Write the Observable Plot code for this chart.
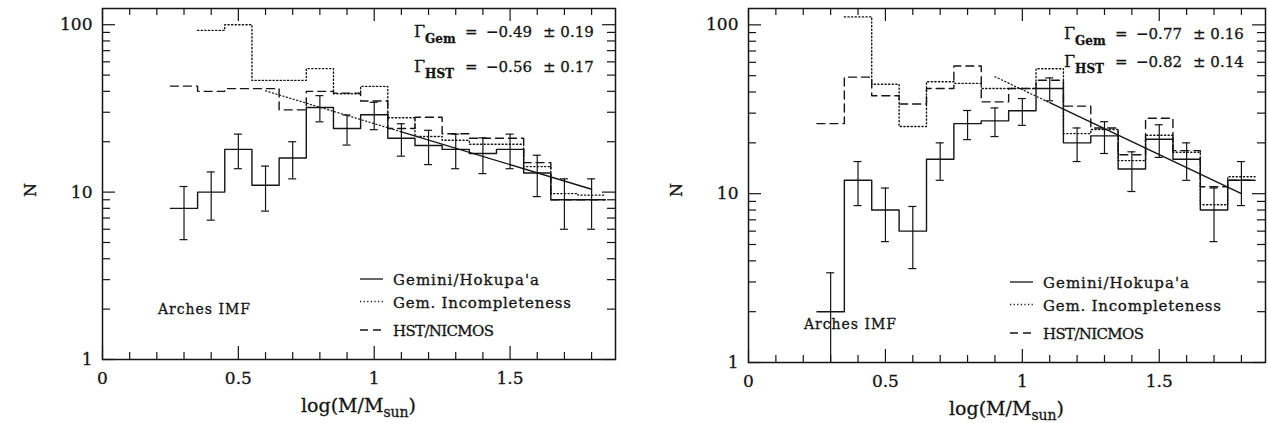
<!DOCTYPE html>
<html>
<head>
<meta charset="utf-8">
<script src="https://cdn.jsdelivr.net/npm/d3@7"></script>
<script src="https://cdn.jsdelivr.net/npm/@observablehq/plot@0.6"></script>
<style>
  body { margin: 0; background: #fff; }
  #charts { display: flex; width: 1268px; height: 423px; }
  #charts svg text { stroke: #151515; stroke-width: 0.3px; }
</style>
</head>
<body>
<div id="charts"></div>
<script>
// Mass bins: centres in log(M/Msun), 0.1 dex wide
const binCenters = [0.3, 0.4, 0.5, 0.6, 0.7, 0.8, 0.9, 1.0, 1.1, 1.2, 1.3, 1.4, 1.5, 1.6, 1.7, 1.8];
const binWidth = 0.1;

// Left panel
const leftGemini      = [8, 10, 18, 11, 16, 32, 24, 29, 21, 19, 18, 17, 18, 13, 9, 9];
const leftGeminiErr   = [2.8, 3.2, 4.2, 3.3, 4.0, 5.7, 4.9, 5.4, 4.6, 4.4, 4.2, 4.1, 4.2, 3.6, 3.0, 3.0];
const leftIncomplete  = [null, 92.5, 100, 46.5, 46.5, 54.7, 38.7, 42.8, 27.8, 21.5, 20.4, 19.3, 19.3, 14.2, 9.8, 9.6];
const leftHST         = [43, 40, 41.5, 41.5, 31, 40, 39, 35, 24, 28, 22.3, 21, 21, 15, 9, 9];
const leftSlopes      = [
  {sub: "Gem", gamma: -0.49, err: 0.19},
  {sub: "HST", gamma: -0.56, err: 0.17}
];
const leftFit = {pivotM: 1.8, pivotN: 10.4, dottedFrom: 0.6, solidFrom: 1.1, to: 1.8};

// Right panel
const rightGemini     = [2, 12, 8, 6, 16, 26, 27, 31, 42, 20, 22, 14, 21, 16, 8, 12];
const rightGeminiErr  = [1.4, 3.5, 2.8, 2.4, 4.0, 5.1, 5.2, 5.6, 6.5, 4.5, 4.7, 3.7, 4.6, 4.0, 2.8, 3.5];
const rightIncomplete = [null, 111.5, 44.5, 25, 46, 45, 42, 42, 55, 22.7, 24, 15.7, 22.2, 17.6, 8.6, 12.6];
const rightHST        = [26, 49, 38, 34, 42, 57, 35, 42, 47, 33, 24.5, 17, 28, 18, 11, 12];
const rightSlopes     = [
  {sub: "Gem", gamma: -0.77, err: 0.16},
  {sub: "HST", gamma: -0.82, err: 0.14}
];
const rightFit = {pivotM: 1.8, pivotN: 10.0, dottedFrom: 0.9, solidFrom: 1.1, to: 1.8};

// Axis ticks
const xMajor = [0, 0.5, 1, 1.5];
const xMinor = [0.1, 0.2, 0.3, 0.4, 0.6, 0.7, 0.8, 0.9, 1.1, 1.2, 1.3, 1.4, 1.6, 1.7, 1.8];
const yMajor = [1, 10, 100];
const yMinor = [2, 3, 4, 5, 6, 7, 8, 9, 20, 30, 40, 50, 60, 70, 80, 90];

const legendLabels = ["Gemini/Hokupa'a", "Gem. Incompleteness", "HST/NICMOS"];
const panelTag = "Arches IMF";
const xTitle = ["log(M/M", "sun", ")"];
const yTitle = "N";

const ink = "#151515";
const serif = "'DejaVu Serif', 'Liberation Serif', serif";
const dotted = "1.2,2.4";
const dashed = "8,5";
const legendDashes = [null, dotted, dashed];
// Even, typewriter-like spacing of the legend and tag lettering
const legendLengths = [146, 178, 101];
const tagLength = 92;

// Histogram outline: one point per bin left edge plus the last right edge
function stepPoints(values) {
  const pts = [];
  let last = null;
  binCenters.forEach((c, i) => {
    const v = values[i];
    if (v == null) return;
    pts.push({m: c - binWidth / 2, n: v});
    last = {m: c + binWidth / 2, n: v};
  });
  if (last) pts.push(last);
  return pts;
}

function errorRows(values, errs) {
  return binCenters.map((c, i) => ({m: c, lo: values[i] - errs[i], hi: values[i] + errs[i]}));
}

// Power-law fit, slope taken from the Gemini Γ
function fitPoints(fit, gamma, from, to) {
  return [from, to].map(m => ({m, n: fit.pivotN * Math.pow(10, gamma * (m - fit.pivotM))}));
}

function annotations(cfg) {
  return (index, scales, values, dim) => {
    const L = dim.marginLeft, R = dim.width - dim.marginRight;
    const T = dim.marginTop, B = dim.height - dim.marginBottom;
    const g = d3.create("svg:g").attr("fill", ink).attr("font-family", serif)
      .attr("text-anchor", "start");

    // Slope labels
    cfg.slopes.forEach((s, i) => {
      const y = T + cfg.slopeBaselines[i];
      const t = g.append("text").attr("x", R - 201).attr("y", y).attr("font-size", 16);
      t.append("tspan").text("Γ");
      t.append("tspan").attr("font-size", 12).attr("dy", 6).attr("font-weight", "bold").text(s.sub);
      g.append("text").attr("x", R - 150).attr("y", y).attr("font-size", 15).text("=");
      g.append("text").attr("x", R - 129).attr("y", y).attr("font-size", 15).text("−" + Math.abs(s.gamma).toFixed(2));
      g.append("text").attr("x", R - 72).attr("y", y).attr("font-size", 15).text("± " + s.err.toFixed(2));
    });

    // Tag
    g.append("text").attr("x", L + 56).attr("y", B - cfg.tagLift)
      .attr("font-size", 14).attr("textLength", tagLength).attr("lengthAdjust", "spacing")
      .text(panelTag);

    // Legend
    const rows = [[80, 74], [57.5, 51.5], [29, 23.5]];
    legendLabels.forEach((label, i) => {
      g.append("line").attr("x1", R - 255).attr("x2", R - 232)
        .attr("y1", B - rows[i][0]).attr("y2", B - rows[i][0])
        .attr("stroke", ink).attr("stroke-width", 1.3)
        .attr("stroke-dasharray", legendDashes[i]);
      g.append("text").attr("x", R - 222).attr("y", B - rows[i][1])
        .attr("font-size", 15).attr("textLength", legendLengths[i]).attr("lengthAdjust", "spacing")
        .text(label);
    });

    // Axis titles
    const xt = g.append("text").attr("x", (L + R) / 2).attr("y", B + 53)
      .attr("text-anchor", "middle").attr("font-size", 19);
    xt.append("tspan").text(xTitle[0]);
    xt.append("tspan").attr("font-size", 14).attr("dy", 5).text(xTitle[1]);
    xt.append("tspan").attr("dy", -5).text(xTitle[2]);
    g.append("text").attr("transform", `translate(${L - 66},${T + 182}) rotate(-90)`)
      .attr("text-anchor", "middle").attr("font-size", 16).text(yTitle);
    return g.node();
  };
}

function panel(cfg) {
  const width = 634, height = 423;
  const frameW = width - cfg.marginLeft - cfg.marginRight;
  const frameH = height - cfg.marginTop - cfg.marginBottom;
  const gamma = cfg.slopes[0].gamma;
  const errs = errorRows(cfg.gemini, cfg.geminiErr);
  const line = {x: "m", y: "n", stroke: ink, strokeWidth: 1.4, curve: "step-after"};
  const tick = {stroke: ink, strokeWidth: 1.2};
  return Plot.plot({
    width, height,
    marginLeft: cfg.marginLeft, marginRight: cfg.marginRight,
    marginTop: cfg.marginTop, marginBottom: cfg.marginBottom,
    style: {fontFamily: serif, color: ink, background: "#fff", overflow: "visible"},
    x: {domain: [0, 1.888]},
    y: {type: "log", domain: [1, 125]},
    marks: [
      // Histograms
      Plot.line(stepPoints(cfg.hst), {...line, strokeDasharray: dashed}),
      Plot.line(stepPoints(cfg.incomplete), {...line, strokeDasharray: dotted}),
      Plot.line(stepPoints(cfg.gemini), line),
      // Poisson error bars
      Plot.ruleX(errs, {x: "m", y1: "lo", y2: "hi", stroke: ink, strokeWidth: 1.2, clip: true}),
      Plot.ruleY(errs, {x1: "m", x2: "m", y: "hi", insetLeft: -4, insetRight: -4, stroke: ink, strokeWidth: 1.2, clip: true}),
      Plot.ruleY(errs, {x1: "m", x2: "m", y: "lo", insetLeft: -4, insetRight: -4, stroke: ink, strokeWidth: 1.2, clip: true}),
      // Fit line and its extrapolation
      Plot.line(fitPoints(cfg.fit, gamma, cfg.fit.dottedFrom, cfg.fit.solidFrom), {x: "m", y: "n", stroke: ink, strokeWidth: 1.2, strokeDasharray: dotted}),
      Plot.line(fitPoints(cfg.fit, gamma, cfg.fit.solidFrom, cfg.fit.to), {x: "m", y: "n", stroke: ink, strokeWidth: 1.4}),
      // Inward ticks on all four sides
      Plot.tickX(xMajor, {x: d => d, insetTop: frameH - 13, ...tick}),
      Plot.tickX(xMinor, {x: d => d, insetTop: frameH - 7, ...tick}),
      Plot.tickX(xMajor, {x: d => d, insetBottom: frameH - 13, ...tick}),
      Plot.tickX(xMinor, {x: d => d, insetBottom: frameH - 7, ...tick}),
      Plot.tickY(yMajor, {y: d => d, insetRight: frameW - 13, ...tick}),
      Plot.tickY(yMinor, {y: d => d, insetRight: frameW - 8, ...tick}),
      Plot.tickY(yMajor, {y: d => d, insetLeft: frameW - 13, ...tick}),
      Plot.tickY(yMinor, {y: d => d, insetLeft: frameW - 8, ...tick}),
      Plot.frame({stroke: ink, strokeWidth: 1.5}),
      Plot.axisX(xMajor, {tickSize: 0, tickPadding: 12, fontSize: 17, tickFormat: d => String(d), label: null}),
      Plot.axisY(yMajor, {tickSize: 0, tickPadding: 10, fontSize: 17, tickFormat: d => String(d), label: null}),
      annotations(cfg)
    ]
  });
}

const host = document.getElementById("charts");
host.append(panel({
  gemini: leftGemini, geminiErr: leftGeminiErr, incomplete: leftIncomplete, hst: leftHST,
  slopes: leftSlopes, fit: leftFit,
  marginLeft: 102, marginRight: 19, marginTop: 8, marginBottom: 64,
  slopeBaselines: [28.5, 63.5], tagLift: 45
}));
host.append(panel({
  gemini: rightGemini, geminiErr: rightGeminiErr, incomplete: rightIncomplete, hst: rightHST,
  slopes: rightSlopes, fit: rightFit,
  marginLeft: 114, marginRight: 3, marginTop: 8, marginBottom: 61,
  slopeBaselines: [30.5, 58.5], tagLift: 33
}));
</script>
</body>
</html>
